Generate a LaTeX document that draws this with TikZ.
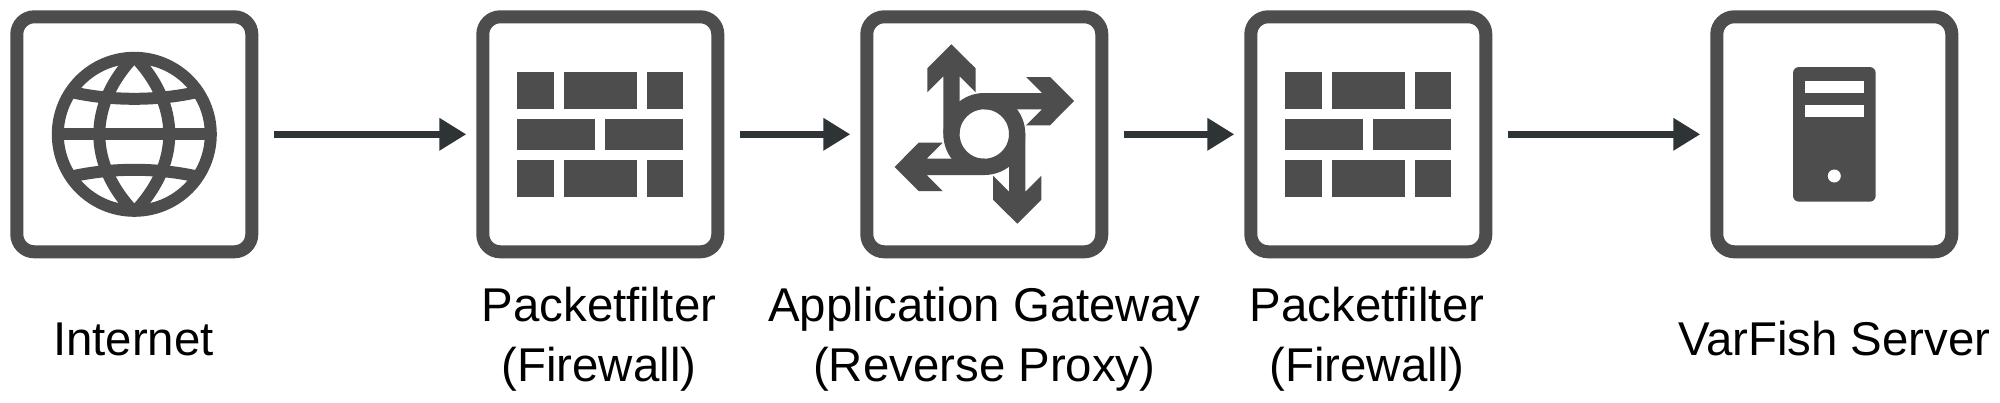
\documentclass[tikz,border=0pt]{standalone}
\usepackage{fontspec}
\setmainfont{Liberation Sans}
\usetikzlibrary{arrows.meta}
\definecolor{boxgray}{HTML}{4D4D4D}
\definecolor{arrowdark}{HTML}{2E3436}
\tikzset{
  iconbox/.style={draw=boxgray,line width=13pt,fill=white,rounded corners=17.5pt,minimum size=235pt,inner sep=0pt},
  flow/.style={draw=arrowdark,line width=6.7pt,-{Triangle[length=27pt,width=31pt]},shorten <=16pt,shorten >=10pt},
  caption/.style={anchor=base,align=center,inner sep=0pt,font=\fontsize{47.4}{60}\selectfont,text=black},
  globeline/.style={draw=boxgray,line width=12pt},
  brick/.style={fill=boxgray,draw=none}
}
\newcommand{\firewallicon}[1]{%
  \begin{scope}[shift={(#1)}]
    \fill[brick] (-83,-62) rectangle (-46,-25.5);
    \fill[brick] (-36.3,-62) rectangle (36.5,-25.5);
    \fill[brick] (46.5,-62) rectangle (83,-25.5);
    \fill[brick] (-83,-15.8) rectangle (-5,15.8);
    \fill[brick] (5,-15.8) rectangle (83,15.8);
    \fill[brick] (-83,25.8) rectangle (-46,62.2);
    \fill[brick] (-36.3,25.8) rectangle (36.5,62.2);
    \fill[brick] (46.5,25.8) rectangle (83,62.2);
  \end{scope}}
\begin{document}
\begin{tikzpicture}[x=1pt,y=-1pt]
\useasboundingbox (0,0) rectangle (2000,402);
\fill[white] (0,0) rectangle (2000,402);
% boxes
\node[iconbox] (internet) at (134.3,134.3) {};
\node[iconbox] (pf1) at (600.3,134.3) {};
\node[iconbox] (gw) at (984.3,134.3) {};
\node[iconbox] (pf2) at (1368.3,134.3) {};
\node[iconbox] (server) at (1834.3,134.3) {};
% connectors
\draw[flow] (internet) -- (pf1);
\draw[flow] (pf1) -- (gw);
\draw[flow] (gw) -- (pf2);
\draw[flow] (pf2) -- (server);
% globe
\begin{scope}[shift={(134.3,134.3)}]
  \draw[globeline] (0,0) circle[radius=76.5];
  \draw[globeline] (-72,0) -- (72,0);
  \draw[globeline] (0,-78) .. controls (-22,-55) and (-35,-28) .. (-35,0) .. controls (-35,28) and (-22,55) .. (0,78);
  \draw[globeline] (0,-78) .. controls (22,-55) and (35,-28) .. (35,0) .. controls (35,28) and (22,55) .. (0,78);
  \draw[globeline] (-66,-43) .. controls (-25,-33) and (25,-33) .. (66,-43);
  \draw[globeline] (-66,43) .. controls (-25,33) and (25,33) .. (66,43);
\end{scope}
% firewalls
\firewallicon{600.3,134.3}
\firewallicon{1368.3,134.3}
% gateway
\begin{scope}[shift={(984.3,134)}]
  \foreach \a in {0,90,180,270}{
    \fill[boxgray,rotate=\a] (-41,0) -- (-41,-57.7) -- (-57,-41.7) -- (-57,-65.7) -- (-33,-89.7) -- (-8.7,-65.7) -- (-8.7,-41.7) -- (-24.7,-57.7) -- (-24.7,0) -- cycle;
  }
  \draw[boxgray,line width=16.3pt] (0,0) circle[radius=32.85];
\end{scope}
% server
\fill[boxgray,rounded corners=6pt] (1793,67) rectangle (1875.7,201.7);
\fill[white] (1805,81) rectangle (1864,93);
\fill[white] (1805,104.7) rectangle (1864,116.7);
\fill[white] (1834.3,176) circle[radius=6.5];
% captions
\node[caption] (capinternet) at (133.5,355.7) {Internet};
\node[caption] (cappf1) at (599,321.7) {Packetfilter};
\node[caption] (cappf1b) at (599,381.7) {(Firewall)};
\node[caption] (capgw) at (984.3,321.7) {Application Gateway};
\node[caption] (capgwb) at (984.3,381.7) {(Reverse Proxy)};
\node[caption] (cappf2) at (1367,321.7) {Packetfilter};
\node[caption] (cappf2b) at (1367,381.7) {(Firewall)};
\node[caption] (capserver) at (1834.3,355.7) {VarFish Server};
\end{tikzpicture}
\end{document}
